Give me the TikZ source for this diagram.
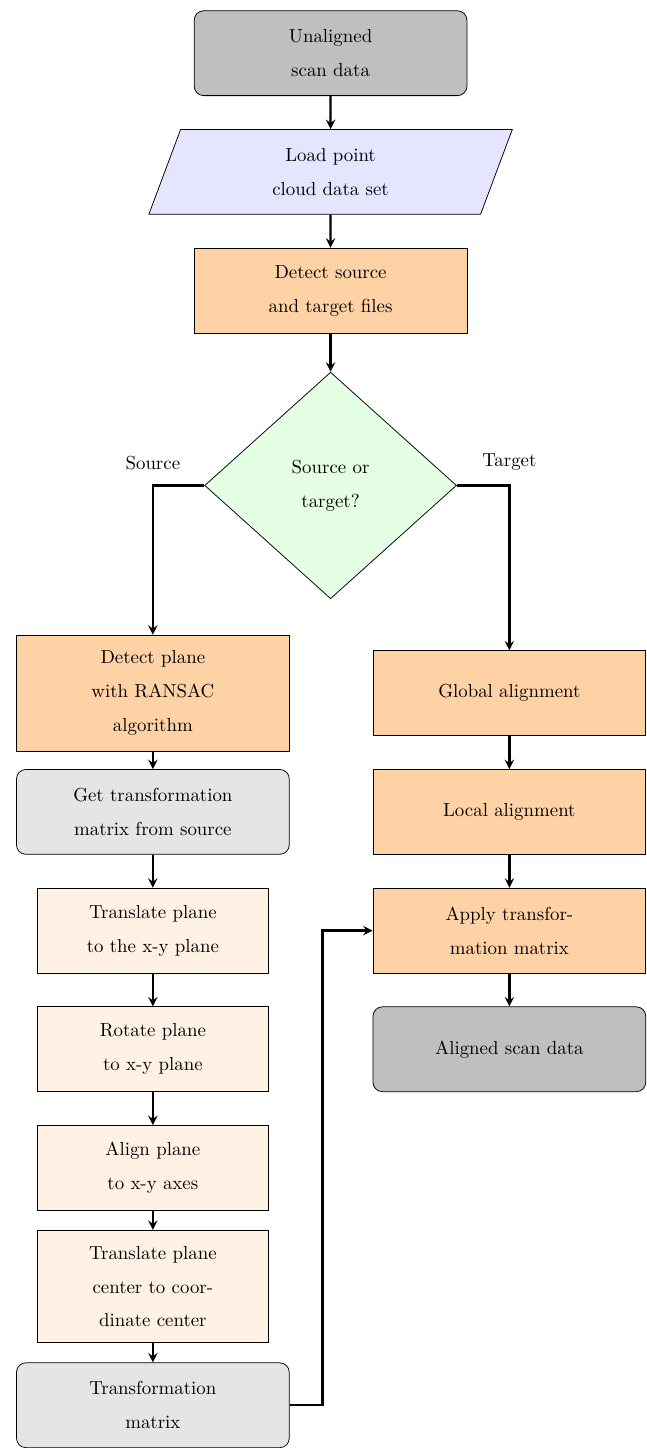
\documentclass[tikz,border=0pt]{standalone}
\usepackage{tikz}
\usetikzlibrary{shapes.geometric, arrows}
\linespread{1.5}
\tikzstyle{scandata} = [rectangle, rounded corners=5pt, minimum width=5.08cm, minimum height=1.58cm, inner ysep=8.3pt, text centered, text width=3.6cm, draw=black, fill=gray!50]
\tikzstyle{loadio} = [trapezium, trapezium left angle=70, trapezium right angle=110, trapezium stretches=true, minimum width=6.78cm, minimum height=1.58cm, text centered, text width=3.6cm, draw=black, fill=blue!10]
\tikzstyle{proc} = [rectangle, minimum width=5.08cm, minimum height=1.58cm, inner ysep=8.3pt, text centered, text width=3.6cm, draw=black, fill=orange!35]
\tikzstyle{subproc} = [rectangle, minimum width=4.29cm, minimum height=1.58cm, inner ysep=8.3pt, text centered, text width=3.6cm, draw=black, fill=orange!10]
\tikzstyle{tmatrix} = [rectangle, rounded corners=5pt, minimum width=5.08cm, minimum height=1.58cm, inner ysep=8.3pt, text centered, text width=3.6cm, draw=black, fill=gray!20]
\tikzstyle{decision} = [diamond, minimum width=4.69cm, minimum height=4.22cm, text centered, text width=2.5cm, draw=black, fill=green!10]
\tikzstyle{arrow} = [very thick,->,>=stealth]

\begin{document}
\begin{tikzpicture}[node distance=2.21cm, scale=1, every node/.style={scale=1}]

		\node (unaligned) [scandata] {Unaligned\\scan data};
		\node (load) [loadio, below of=unaligned] {Load point\\cloud data set};
		\node (detect) [proc, below of=load] {Detect source\\and target files};
		\node (decide) [decision, below of=detect, yshift=-1.42cm] {Source or\\target?};

		\node (plane) [proc, below of=decide, xshift=-3.31cm, yshift=-1.66cm] {Detect plane\\with RANSAC\\algorithm};
		\node (getmat) [tmatrix, below of=plane] {Get transformation\\matrix from source};
		\node (transl) [subproc, below of=getmat] {Translate plane\\to the x-y plane};
		\node (rotate) [subproc, below of=transl] {Rotate plane\\to x-y plane};
		\node (align) [subproc, below of=rotate] {Align plane\\to x-y axes};
		\node (center) [subproc, below of=align] {Translate plane\\center to coor-\\dinate center};
		\node (tmat) [tmatrix, below of=center] {Transformation\\matrix};

		\node (global) [proc, below of=decide, xshift=3.33cm, yshift=-1.66cm] {Global alignment};
		\node (local) [proc, below of=global] {Local alignment};
		\node (apply) [proc, below of=local] {Apply transfor-\\mation matrix};
		\node (aligned) [scandata, below of=apply] {Aligned scan data};

		\useasboundingbox ([shift={(-6.157cm,0.991cm)}]unaligned.center) rectangle ([shift={(5.861cm,-25.824cm)}]unaligned.center);

		\draw [arrow] (unaligned) -- (load);
		\draw [arrow] (load) -- (detect);
		\draw [arrow] (detect) -- (decide);

		\draw [arrow] (decide.west) -| node (srclabel) [above, pos=0.5, yshift=0.15cm] {Source} (plane.north);
		\draw [arrow] (decide.east) -| node (tgtlabel) [above, pos=0.5, yshift=0.15cm] {Target} (global.north);

		\draw [arrow] (plane) -- (getmat);
		\draw [arrow] (getmat) -- (transl);
		\draw [arrow] (transl) -- (rotate);
		\draw [arrow] (rotate) -- (align);
		\draw [arrow] (align) -- (center);
		\draw [arrow] (center) -- (tmat);

		\draw [arrow] (global) -- (local);
		\draw [arrow] (local) -- (apply);
		\draw [arrow] (apply) -- (aligned);

		\draw [arrow] (tmat.east) -- ++(0.61,0) |- (apply.west);

		\end{tikzpicture}
\end{document}
